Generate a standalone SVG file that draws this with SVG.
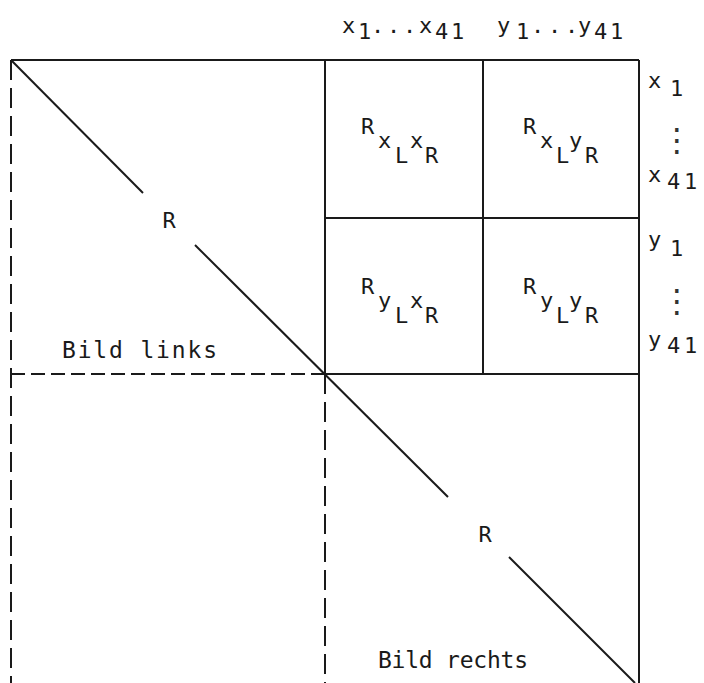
<svg xmlns="http://www.w3.org/2000/svg" width="704" height="683" viewBox="0 0 704 683">
<style>
.ln{stroke:#1a1a1a;stroke-width:2;fill:none}
.ds{stroke:#1a1a1a;stroke-width:2;fill:none;stroke-dasharray:20 8}
.dh{stroke:#1a1a1a;stroke-width:2;fill:none;stroke-dasharray:14 6}
.t{font-family:"DejaVu Sans Mono","Liberation Mono",monospace;font-size:22px;fill:#1a1a1a}
.b{font-size:23px}
.v{font-family:"DejaVu Sans","Noto Sans",sans-serif;font-size:32px;fill:#333}
.m{text-anchor:middle}
</style>
<rect width="704" height="683" fill="#fff"/>
<g id="connectors">
<line class="ln" x1="11" y1="60" x2="639" y2="60"/>
<line class="ds" x1="11" y1="60" x2="11" y2="683"/>
<line class="ln" x1="325" y1="60" x2="325" y2="374"/>
<line class="ds" x1="325" y1="374" x2="325" y2="683"/>
<line class="ln" x1="483" y1="60" x2="483" y2="374"/>
<line class="ln" x1="639" y1="60" x2="639" y2="683"/>
<line class="ln" x1="325" y1="218" x2="639" y2="218"/>
<line class="ln" x1="325" y1="374" x2="639" y2="374"/>
<line class="dh" x1="11" y1="374" x2="325" y2="374"/>
<line class="ln" x1="11" y1="60" x2="143" y2="193"/>
<line class="ln" x1="195" y1="245" x2="448" y2="497"/>
<line class="ln" x1="509" y1="557" x2="635" y2="683"/>
</g>
<g id="R-links"><text class="t m" x="169" y="228">R</text></g>
<g id="R-rechts"><text class="t m" x="485" y="542">R</text></g>
<g id="bild-links"><text class="t b" x="62" y="358" textLength="155" lengthAdjust="spacing">Bild links</text></g>
<g id="bild-rechts"><text class="t b" x="378" y="668" textLength="150" lengthAdjust="spacing">Bild rechts</text></g>
<g id="cell-xLxR"><text class="t"><tspan x="361" y="134">R</tspan><tspan x="378" y="148">x</tspan><tspan x="395" y="163">L</tspan><tspan x="410" y="148">x</tspan><tspan x="425" y="163">R</tspan></text></g>
<g id="cell-xLyR"><text class="t"><tspan x="523" y="134">R</tspan><tspan x="540" y="148">x</tspan><tspan x="556" y="163">L</tspan><tspan x="569" y="148">y</tspan><tspan x="585" y="163">R</tspan></text></g>
<g id="cell-yLxR"><text class="t"><tspan x="361" y="294">R</tspan><tspan x="378" y="308">y</tspan><tspan x="395" y="323">L</tspan><tspan x="410" y="308">x</tspan><tspan x="425" y="323">R</tspan></text></g>
<g id="cell-yLyR"><text class="t"><tspan x="523" y="294">R</tspan><tspan x="540" y="308">y</tspan><tspan x="556" y="323">L</tspan><tspan x="569" y="308">y</tspan><tspan x="585" y="323">R</tspan></text></g>
<g id="top-labels"><text class="t"><tspan x="342" y="33">x</tspan><tspan x="358" y="39">1</tspan><tspan x="371" y="33">.</tspan><tspan x="387" y="33">.</tspan><tspan x="403" y="33">.</tspan><tspan x="419" y="33">x</tspan><tspan x="435" y="39">4</tspan><tspan x="451" y="39">1</tspan><tspan x="497" y="33">y</tspan><tspan x="516" y="39">1</tspan><tspan x="531" y="33">.</tspan><tspan x="548" y="33">.</tspan><tspan x="565" y="33">.</tspan><tspan x="578" y="33">y</tspan><tspan x="594" y="39">4</tspan><tspan x="610" y="39">1</tspan></text></g>
<g id="right-labels"><text class="t"><tspan x="648" y="88">x</tspan><tspan x="670" y="96">1</tspan><tspan x="648" y="182">x</tspan><tspan x="667" y="189">4</tspan><tspan x="684" y="189">1</tspan><tspan x="648" y="247">y</tspan><tspan x="670" y="256">1</tspan><tspan x="648" y="347">y</tspan><tspan x="667" y="353">4</tspan><tspan x="684" y="353">1</tspan></text>
<text class="v m" x="677" y="151">⋮</text>
<text class="v m" x="677" y="312">⋮</text></g>
</svg>
